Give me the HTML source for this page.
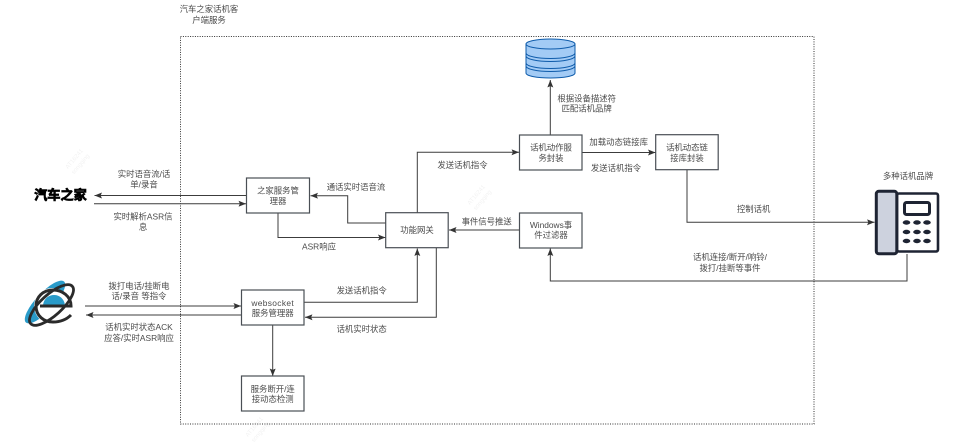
<!DOCTYPE html>
<html>
<head>
<meta charset="utf-8">
<style>
html,body{margin:0;padding:0;background:#fff;width:970px;height:448px;overflow:hidden}
svg{display:block;filter:blur(.35px)}
text{font-family:"Liberation Sans","Noto Sans CJK SC",sans-serif;font-size:8.4px;fill:#4a4a4a;text-anchor:middle;dominant-baseline:central}
.b{fill:#fff;stroke:#4a4f55;stroke-width:1.2}
.l{fill:none;stroke:#3c3c3c;stroke-width:1}
.w{font-size:6px;fill:#f2f2f2}
</style>
</head>
<body>
<svg width="970" height="448" viewBox="0 0 970 448" xmlns="http://www.w3.org/2000/svg">
<defs>
<marker id="m" markerUnits="userSpaceOnUse" markerWidth="8" markerHeight="6" refX="7.5" refY="3" orient="auto">
<path d="M0 0 L7.5 3 L0 6 L1.4 3 Z" fill="#333"/>
</marker>
</defs>

<!-- watermarks -->
<g transform="rotate(-50 78 162)"><text class="w" x="78" y="158">AT16241</text><text class="w" x="78" y="166">songqing</text></g>
<g transform="rotate(-50 258 430)"><text class="w" x="258" y="426">AT16241</text><text class="w" x="258" y="434">songqing</text></g>
<g transform="rotate(-50 480 198)"><text class="w" x="480" y="194">AT16241</text><text class="w" x="480" y="202">songqing</text></g>
<g transform="rotate(-50 918 212)"><text class="w" x="918" y="208">AT16241</text><text class="w" x="918" y="216">songqing</text></g>

<!-- container -->
<rect x="180.5" y="36.5" width="633.5" height="387.5" fill="none" stroke="#333" stroke-width="1" stroke-dasharray="1 1.4"/>

<!-- connectors -->
<path class="l" d="M246 195.5H94.5" marker-end="url(#m)"/>
<path class="l" d="M94 203.7H246" marker-end="url(#m)"/>
<path class="l" d="M85 306H241" marker-end="url(#m)"/>
<path class="l" d="M241 315H86" marker-end="url(#m)"/>
<path class="l" d="M272.7 325V376" marker-end="url(#m)"/>
<path class="l" d="M278 213V237.5H385.5" marker-end="url(#m)"/>
<path class="l" d="M385.5 223H347.7V195.7H310.5" marker-end="url(#m)"/>
<path class="l" d="M304 302.3H417.3V248.5" marker-end="url(#m)"/>
<path class="l" d="M436.3 248V317.3H305" marker-end="url(#m)"/>
<path class="l" d="M417.3 212.5V152.3H519" marker-end="url(#m)"/>
<path class="l" d="M519.5 230H449" marker-end="url(#m)"/>
<path class="l" d="M550.3 135V80" marker-end="url(#m)"/>
<path class="l" d="M582 152.5H655.5" marker-end="url(#m)"/>
<path class="l" d="M687 170V222.3H874.5" marker-end="url(#m)"/>
<path class="l" d="M907 254V281H550.3V248.5" marker-end="url(#m)"/>

<!-- boxes -->
<rect class="b" x="246.5" y="178" width="63" height="35"/>
<rect class="b" x="241.5" y="290" width="62.5" height="35"/>
<rect class="b" x="241.5" y="376" width="62.5" height="35"/>
<rect class="b" x="385.7" y="212.7" width="62.5" height="35"/>
<rect class="b" x="519.5" y="213" width="62.5" height="35"/>
<rect class="b" x="519.5" y="135" width="62.5" height="35"/>
<rect class="b" x="655.7" y="134.7" width="62.5" height="35"/>

<!-- database -->
<g fill="#a3cbf5" stroke="#0f5cab" stroke-width="1">
<path d="M526 44V73C526 76 537 78 550.5 78S575 76 575 73V44Z"/>
<ellipse cx="550.5" cy="44" rx="24.5" ry="5"/>
<path d="M526 53C526 56 537 58.5 550.5 58.5S575 56 575 53" fill="none"/>
<path d="M526 56C526 59 537 61.5 550.5 61.5S575 59 575 56" fill="none"/>
<path d="M526 63C526 66 537 68.5 550.5 68.5S575 66 575 63" fill="none"/>
<path d="M526 66C526 69 537 71.5 550.5 71.5S575 69 575 66" fill="none"/>
</g>

<!-- phone -->
<rect x="897" y="193.5" width="41" height="58" rx="2" fill="#fff" stroke="#1e2433" stroke-width="2.6"/>
<rect x="876.3" y="191.3" width="20.5" height="62.5" rx="2.5" fill="#cdd2de" stroke="#1e2433" stroke-width="3"/>
<rect x="904.5" y="202.5" width="25" height="12" rx="2" fill="#fff" stroke="#1e2433" stroke-width="3"/>
<g fill="#1e2433">
<ellipse cx="906.5" cy="222.5" rx="3.8" ry="2.2"/><ellipse cx="917" cy="222.5" rx="3.8" ry="2.2"/><ellipse cx="927" cy="222.5" rx="3.8" ry="2.2"/>
<ellipse cx="906.5" cy="232" rx="3.8" ry="2.2"/><ellipse cx="917" cy="232" rx="3.8" ry="2.2"/><ellipse cx="927" cy="232" rx="3.8" ry="2.2"/>
<ellipse cx="906.5" cy="241" rx="3.8" ry="2.2"/><ellipse cx="917" cy="241" rx="3.8" ry="2.2"/><ellipse cx="927" cy="241" rx="3.8" ry="2.2"/>
</g>

<!-- IE icon -->
<ellipse cx="45" cy="302" rx="28" ry="9" transform="rotate(-47 45 302)" fill="#2a9bc9"/>
<circle cx="52" cy="306" r="18" fill="#fff"/>
<path d="M43 305C44 298 49 295 54 295C60 295 64 299 65 305Z" fill="#2a9bc9"/>
<ellipse cx="51.5" cy="305" rx="28" ry="10.5" transform="rotate(-42 51.5 305)" fill="none" stroke="#2b2b2b" stroke-width="2.8"/>
<path d="M40 306H71C71 296 62 290 53 290C43 290 36 297 36 306C36 316 44 322 53 322C60 322 66 320 71 315" fill="none" stroke="#2b2b2b" stroke-width="3"/>

<!-- logo -->
<text x="60.5" y="195" style="font-size:13.2px;font-weight:bold;fill:#000;stroke:#000;stroke-width:.7">汽车之家</text>

<!-- labels -->
<text x="209" y="9">汽车之家话机客</text><text x="209" y="20">户端服务</text>
<text x="144" y="174">实时语音流/话</text><text x="144" y="184.5">单/录音</text>
<text x="143" y="216.7">实时解析ASR信</text><text x="143" y="227">息</text>
<text x="139" y="286">拨打电话/挂断电</text><text x="139" y="296">话/录音 等指令</text>
<text x="139" y="327">话机实时状态ACK</text><text x="139" y="338">应答/实时ASR响应</text>
<text x="278" y="190.5">之家服务管</text><text x="278" y="201">理器</text>
<text x="272.7" y="303" style="letter-spacing:.35px">websocket</text><text x="272.7" y="313">服务管理器</text>
<text x="272.7" y="389">服务断开/连</text><text x="272.7" y="399">接动态检测</text>
<text x="417" y="230">功能网关</text>
<text x="551" y="225">Windows事</text><text x="551" y="235">件过滤器</text>
<text x="551" y="147.5">话机动作服</text><text x="551" y="158">务封装</text>
<text x="687" y="147.5">话机动态链</text><text x="687" y="158">接库封装</text>
<text x="586.7" y="98.7">根据设备描述符</text><text x="586.7" y="108.7">匹配话机品牌</text>
<text x="618.7" y="142">加载动态链接库</text>
<text x="616" y="168">发送话机指令</text>
<text x="462.5" y="165">发送话机指令</text>
<text x="356" y="187">通话实时语音流</text>
<text x="486.7" y="221.7">事件信号推送</text>
<text x="319" y="246.7">ASR响应</text>
<text x="361.7" y="290.7">发送话机指令</text>
<text x="361.7" y="329">话机实时状态</text>
<text x="753.7" y="209">控制话机</text>
<text x="730" y="257">话机连接/断开/响铃/</text><text x="730" y="268">拨打/挂断等事件</text>
<text x="908" y="176">多种话机品牌</text>
</svg>
</body>
</html>
